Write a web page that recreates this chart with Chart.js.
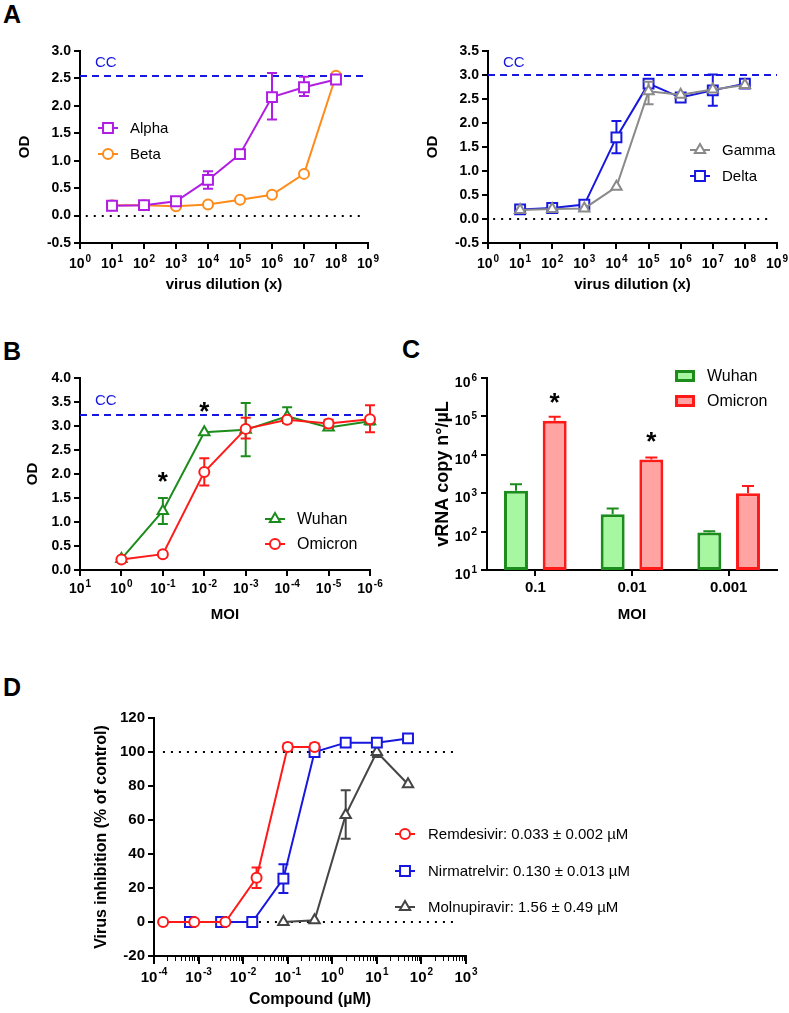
<!DOCTYPE html>
<html>
<head>
<meta charset="utf-8">
<script src="https://cdn.jsdelivr.net/npm/chart.js@4.4.1/dist/chart.umd.min.js"></script>
<style>
  body { margin: 0; background: #fff; }
  #page { position: relative; width: 789px; height: 1013px; overflow: hidden; background: #fff; }
  canvas { position: absolute; }
  .tag { position: absolute; font: bold 25px "Liberation Sans", Arial, sans-serif; line-height: 1; color: #000; }
</style>
</head>
<body>
<div id="page">
  <div class="tag" style="left:3px;top:2px">A</div>
  <div class="tag" style="left:3px;top:339px">B</div>
  <div class="tag" style="left:402px;top:337px">C</div>
  <div class="tag" style="left:3px;top:675px">D</div>
  <canvas id="chartA1"></canvas>
  <canvas id="chartA2"></canvas>
  <canvas id="chartB"></canvas>
  <canvas id="chartC"></canvas>
  <canvas id="chartD"></canvas>
</div>
<script>
// ---- data ----
const dilution = [1e1, 1e2, 1e3, 1e4, 1e5, 1e6, 1e7, 1e8];
const dilutionTicks = [1, 1e1, 1e2, 1e3, 1e4, 1e5, 1e6, 1e7, 1e8, 1e9];

const alphaOD = [0.18, 0.19, 0.26, 0.65, 1.12, 2.16, 2.34, 2.48];
const alphaErr = [null, null, null, [0.49, 0.81], null, [1.75, 2.6], [2.18, 2.53], null];
const betaOD = [0.19, 0.19, 0.17, 0.20, 0.29, 0.38, 0.76, 2.55];
const ccA1 = 2.54;

const gammaOD = [0.19, 0.21, 0.22, 0.67, 2.66, 2.59, 2.7, 2.79];
const gammaErr = [null, null, null, null, [2.39, 2.86], null, null, null];
const deltaOD = [0.2, 0.23, 0.3, 1.7, 2.82, 2.53, 2.68, 2.82];
const deltaErr = [null, null, null, [1.37, 2.04], [2.76, 2.88], null, [2.36, 3.01], null];
const ccA2 = 3.01;

// MOI = 10^-k
const moiK = [0, 1, 2, 3, 4, 5, 6];
const moiTicks = [-1, 0, 1, 2, 3, 4, 5, 6];
const wuhanOD = [0.23, 1.23, 2.87, 2.92, 3.2, 2.97, 3.1];
const wuhanErr = [null, [0.96, 1.5], null, [2.37, 3.48], [3.06, 3.39], [2.93, 3.02], [3.03, 3.17]];
const omicronOD = [0.22, 0.33, 2.04, 2.94, 3.13, 3.05, 3.14];
const omicronErr = [null, null, [1.76, 2.33], [2.74, 3.17], [3.08, 3.18], [2.97, 3.13], [2.87, 3.43]];
const ccB = 3.23;
const starsB = [[1, 1.98], [2, 3.44]];

const moiC = ['0.1', '0.01', '0.001'];
const rnaTicks = [1e1, 1e2, 1e3, 1e4, 1e5, 1e6];
const wuhanRNA = [1150, 282, 95];
const wuhanRNAHi = [1700, 398, 102];
const omicronRNA = [77600, 7600, 1000];
const omicronRNAHi = [98000, 8500, 1550];
const starsC = [[0, 340000], [1, 33000]];

const concTicks = [1e-4, 1e-3, 1e-2, 1e-1, 1, 1e1, 1e2, 1e3];
const remConc = [0.00016, 0.0008, 0.004, 0.02, 0.1, 0.4];
const remInh = [0, 0, 0, 26, 103, 103];
const remErr = [null, null, null, [20, 32], [101, 105], [101, 105]];
const nirConc = [0.00064, 0.0032, 0.016, 0.08, 0.4, 2, 10, 50];
const nirInh = [0, 0, 0, 25.5, 100, 105.5, 105.5, 108];
const nirErr = [null, null, null, [17, 34], null, null, null, [106, 110]];
const molConc = [0.08, 0.4, 2, 10, 50];
const molInh = [0, 1, 63, 100, 81];
const molErr = [null, null, [49, 77.5], [97, 103], null];
const drugLabels = [
  'Remdesivir: 0.033 \u00b1 0.002 \u00b5M',
  'Nirmatrelvir: 0.130 \u00b1 0.013 \u00b5M',
  'Molnupiravir: 1.56 \u00b1 0.49 \u00b5M',
];

// ---- colours ----
const PURPLE = '#b11ee3';
const ORANGE = '#ff8c1a';
const BLUE = '#1717e0';
const GREY = '#8a8a8a';
const GREEN = '#1c8c1c';
const RED = '#ff1a1a';
const DARK = '#454545';

const FONT = '"Liberation Sans", Arial, Helvetica, sans-serif';

function drawErr(chart, meta, ds) {
  const ctx = chart.ctx, ys = chart.scales.y;
  const cap = ds.capHalf || 5;
  ctx.save();
  ctx.strokeStyle = ds.borderColor;
  ctx.lineWidth = 2;
  meta.data.forEach((el, i) => {
    const e = ds.err[i];
    if (!e) return;
    const x = el.x, y0 = ys.getPixelForValue(e[0]), y1 = ys.getPixelForValue(e[1]);
    ctx.beginPath();
    ctx.moveTo(x, y0); ctx.lineTo(x, y1);
    ctx.moveTo(x - cap, y1); ctx.lineTo(x + cap, y1);
    if (!ds.topOnly) { ctx.moveTo(x - cap, y0); ctx.lineTo(x + cap, y0); }
    ctx.stroke();
  });
  ctx.restore();
}

function drawPowLabels(chart, o) {
  const ctx = chart.ctx, s = chart.scales[o.axis];
  ctx.save();
  ctx.fillStyle = '#000';
  ctx.textAlign = 'left';
  ctx.textBaseline = 'alphabetic';
  s.ticks.forEach(t => {
    const p = s.getPixelForValue(t.value);
    const e = String(o.exp(t.value));
    ctx.font = `bold ${o.size}px ${FONT}`;
    const w1 = ctx.measureText('10').width;
    ctx.font = `bold ${o.supSize}px ${FONT}`;
    const w2 = ctx.measureText(e).width;
    let x, y;
    if (o.axis === 'x') { x = p - (w1 + w2 + 1) / 2; y = s.top + o.offset; }
    else { x = s.right - o.offset - (w1 + w2 + 1); y = p + o.shift; }
    ctx.font = `bold ${o.size}px ${FONT}`;
    ctx.fillText('10', x, y);
    ctx.font = `bold ${o.supSize}px ${FONT}`;
    ctx.fillText(e, x + w1 + 1, y - o.rise);
  });
  ctx.restore();
}

const extras = {
  id: 'extras',
  beforeDatasetsDraw(chart, args, opts) {
    const ctx = chart.ctx, xs = chart.scales.x, ys = chart.scales.y;
    (opts.refLines || []).forEach(l => {
      ctx.save();
      ctx.strokeStyle = l.color;
      ctx.lineWidth = 2;
      ctx.setLineDash(l.dash);
      const py = Math.round(ys.getPixelForValue(l.y));
      ctx.beginPath();
      ctx.moveTo(xs.getPixelForValue(l.x0), py);
      ctx.lineTo(xs.getPixelForValue(l.x1), py);
      ctx.stroke();
      ctx.restore();
    });
  },
  beforeDatasetDraw(chart, args) {
    const ds = chart.data.datasets[args.index];
    if (ds.err && !ds.topOnly) drawErr(chart, args.meta, ds);
  },
  afterDatasetDraw(chart, args) {
    const ds = chart.data.datasets[args.index];
    if (ds.err && ds.topOnly) drawErr(chart, args.meta, ds);
  },
  afterDraw(chart, args, opts) {
    const ctx = chart.ctx, xs = chart.scales.x, ys = chart.scales.y;
    const ox = opts.origin.left, oy = opts.origin.top;
    (opts.pow || []).forEach(o => drawPowLabels(chart, o));

    if (opts.minor) {
      ctx.save();
      ctx.strokeStyle = '#000';
      ctx.lineWidth = 1;
      opts.minor.forEach(v => {
        const px = Math.round(xs.getPixelForValue(v)) + 0.5;
        ctx.beginPath();
        ctx.moveTo(px, xs.top);
        ctx.lineTo(px, xs.top + 5);
        ctx.stroke();
      });
      ctx.restore();
    }

    (opts.texts || []).forEach(t => {
      ctx.save();
      ctx.fillStyle = t.color;
      ctx.font = t.font;
      ctx.textAlign = 'left';
      ctx.textBaseline = 'middle';
      ctx.fillText(t.text, t.x - ox, t.y - oy);
      ctx.restore();
    });

    (opts.stars || []).forEach(s => {
      const px = s.ds !== undefined ? chart.getDatasetMeta(s.ds).data[s.i].x : xs.getPixelForValue(s.x);
      const py = ys.getPixelForValue(s.y);
      ctx.save();
      ctx.fillStyle = '#000';
      ctx.font = `bold 26px ${FONT}`;
      ctx.textAlign = 'center';
      ctx.textBaseline = 'alphabetic';
      ctx.fillText('*', px, py + 15);
      ctx.restore();
    });

    (opts.legend || []).forEach(it => {
      const x = it.x - ox, y = it.y - oy;
      ctx.save();
      if (it.box) {
        ctx.fillStyle = it.fill;
        ctx.fillRect(x - 10, y - 6, 20, 12);
        ctx.strokeStyle = it.color;
        ctx.lineWidth = 3;
        ctx.strokeRect(x - 8.5, y - 4.5, 17, 9);
      } else {
        ctx.strokeStyle = it.color;
        ctx.lineWidth = 2;
        ctx.beginPath();
        ctx.moveTo(x - 10, y);
        ctx.lineTo(x + 10, y);
        ctx.stroke();
        ctx.fillStyle = '#fff';
        Chart.helpers.drawPoint(ctx, { pointStyle: it.style, radius: it.r, borderWidth: 2, rotation: 0 }, x, y);
      }
      ctx.fillStyle = '#000';
      ctx.font = it.font;
      ctx.textAlign = 'left';
      ctx.textBaseline = 'middle';
      ctx.fillText(it.label, it.tx - ox, y + 1);
      ctx.restore();
    });
  },
};

function scaleOpts(o) {
  const s = {
    type: o.type || 'linear',
    min: o.min,
    max: o.max,
    border: { display: true, color: '#000', width: 2 },
    grid: { drawOnChartArea: false, color: '#000', lineWidth: 2, tickLength: o.tickLength || 6, offset: false },
    ticks: {
      color: '#000', padding: 3, autoSkip: false, maxRotation: 0,
      font: { family: FONT, size: o.tickSize || 14, weight: 'bold' },
    },
    title: {
      display: true, text: o.title, color: '#000',
      font: { family: FONT, size: o.titleSize || 15, weight: 'bold' },
    },
  };
  if (o.step) s.ticks.stepSize = o.step;
  if (o.fmt) s.ticks.callback = o.fmt;
  if (o.ticksAt) s.afterBuildTicks = sc => { sc.ticks = o.ticksAt.map(v => ({ value: v })); };
  return s;
}

function mount(id, box, area, type, data, x, y, titleX, titleY, extra) {
  const cv = document.getElementById(id);
  cv.width = box.w;
  cv.height = box.h;
  cv.style.left = box.left + 'px';
  cv.style.top = box.top + 'px';
  const lhX = 1.2 * x.title.font.size, lhY = 1.2 * y.title.font.size;
  x.title.padding = { top: 0, bottom: box.top + box.h - titleY - lhX / 2 };
  y.title.padding = { top: titleX - box.left - lhY / 2, bottom: 0 };
  x.afterFit = s => { s.height = box.top + box.h - area.b; };
  y.afterFit = s => { s.width = area.l - box.left; };
  return new Chart(cv, {
    type,
    data,
    options: {
      responsive: false,
      animation: false,
      events: [],
      layout: { padding: { top: area.t - box.top, right: box.left + box.w - area.r, left: 0, bottom: 0 } },
      scales: { x, y },
      plugins: {
        legend: { display: false },
        tooltip: { enabled: false },
        extras: Object.assign({ origin: box }, extra),
      },
    },
    plugins: [extras],
  });
}

function lineSet(label, xs, ys, err, color, style, r) {
  return {
    label,
    data: xs.map((x, i) => ({ x, y: ys[i] })),
    err,
    borderColor: color,
    backgroundColor: '#fff',
    pointBackgroundColor: '#fff',
    pointBorderColor: color,
    pointStyle: style,
    pointRadius: r,
    pointBorderWidth: 2,
    borderWidth: 2,
    tension: 0,
    clip: false,
  };
}

const decade = v => Math.round(Math.log10(v));
const legendFont = size => `${size}px ${FONT}`;
const ccFont = `15px ${FONT}`;

// ---- A, left ----
mount('chartA1', { left: 0, top: 30, w: 390, h: 275 }, { l: 80, t: 51, r: 368, b: 243 }, 'line',
  { datasets: [
    lineSet('Alpha', dilution, alphaOD, alphaErr, PURPLE, 'rect', 7),
    lineSet('Beta', dilution, betaOD, null, ORANGE, 'circle', 5),
  ] },
  scaleOpts({ type: 'logarithmic', min: 1, max: 1e9, ticksAt: dilutionTicks, fmt: () => '', title: 'virus dilution (x)' }),
  scaleOpts({ min: -0.5, max: 3, step: 0.5, fmt: v => v.toFixed(1), title: 'OD' }),
  25, 285,
  {
    refLines: [
      { y: ccA1, x0: 1, x1: 10 ** 8.86, color: BLUE, dash: [7, 5] },
      { y: 0, x0: 10 ** 0.18, x1: 10 ** 8.86, color: '#000', dash: [2, 6] },
    ],
    pow: [{ axis: 'x', exp: decade, size: 14, supSize: 10, offset: 25, rise: 6 }],
    texts: [{ text: 'CC', x: 95, y: 63, color: BLUE, font: ccFont }],
    legend: [
      { label: 'Alpha', x: 108, tx: 130, y: 128, color: PURPLE, style: 'rect', r: 7, font: legendFont(15) },
      { label: 'Beta', x: 108, tx: 130, y: 154, color: ORANGE, style: 'circle', r: 5, font: legendFont(15) },
    ],
  });

// ---- A, right ----
mount('chartA2', { left: 390, top: 30, w: 399, h: 275 }, { l: 488, t: 51, r: 777, b: 243 }, 'line',
  { datasets: [
    lineSet('Gamma', dilution, gammaOD, gammaErr, GREY, 'triangle', 6),
    lineSet('Delta', dilution, deltaOD, deltaErr, BLUE, 'rect', 7),
  ] },
  scaleOpts({ type: 'logarithmic', min: 1, max: 1e9, ticksAt: dilutionTicks, fmt: () => '', title: 'virus dilution (x)' }),
  scaleOpts({ min: -0.5, max: 3.5, step: 0.5, fmt: v => v.toFixed(1), title: 'OD' }),
  433, 285,
  {
    refLines: [
      { y: ccA2, x0: 1, x1: 1e9, color: BLUE, dash: [7, 5] },
      { y: 0, x0: 10 ** 0.16, x1: 10 ** 8.8, color: '#000', dash: [2, 6] },
    ],
    pow: [{ axis: 'x', exp: decade, size: 14, supSize: 10, offset: 25, rise: 6 }],
    texts: [{ text: 'CC', x: 503, y: 63, color: BLUE, font: ccFont }],
    legend: [
      { label: 'Gamma', x: 700, tx: 722, y: 150, color: GREY, style: 'triangle', r: 6, font: legendFont(15) },
      { label: 'Delta', x: 700, tx: 722, y: 176, color: BLUE, style: 'rect', r: 7, font: legendFont(15) },
    ],
  });

// ---- B ----
mount('chartB', { left: 0, top: 340, w: 390, h: 290 }, { l: 80, t: 378, r: 370, b: 570 }, 'line',
  { datasets: [
    lineSet('Omicron', moiK, omicronOD, omicronErr, RED, 'circle', 5),
    lineSet('Wuhan', moiK, wuhanOD, wuhanErr, GREEN, 'triangle', 6),
  ] },
  scaleOpts({ min: -1, max: 6, ticksAt: moiTicks, fmt: () => '', title: 'MOI' }),
  scaleOpts({ min: 0, max: 4, step: 0.5, fmt: v => v.toFixed(1), title: 'OD' }),
  33, 615,
  {
    refLines: [{ y: ccB, x0: -1, x1: 6, color: BLUE, dash: [7, 5] }],
    pow: [{ axis: 'x', exp: v => -v, size: 14, supSize: 10, offset: 23, rise: 6 }],
    texts: [{ text: 'CC', x: 95, y: 401, color: BLUE, font: ccFont }],
    stars: starsB.map(([x, y]) => ({ x, y })),
    legend: [
      { label: 'Wuhan', x: 275, tx: 297, y: 519, color: GREEN, style: 'triangle', r: 6, font: legendFont(16) },
      { label: 'Omicron', x: 275, tx: 297, y: 544, color: RED, style: 'circle', r: 5, font: legendFont(16) },
    ],
  });

// ---- C ----
mount('chartC', { left: 390, top: 340, w: 399, h: 290 }, { l: 487, t: 378, r: 777, b: 570 }, 'bar',
  { labels: moiC, datasets: [
    { label: 'Wuhan', data: wuhanRNA, err: wuhanRNA.map((v, i) => [v, wuhanRNAHi[i]]), topOnly: true, capHalf: 6,
      backgroundColor: '#a6f7a0', borderColor: GREEN, borderWidth: 3, borderSkipped: false,
      categoryPercentage: 0.8, barPercentage: 0.62 },
    { label: 'Omicron', data: omicronRNA, err: omicronRNA.map((v, i) => [v, omicronRNAHi[i]]), topOnly: true, capHalf: 6,
      backgroundColor: '#ffa3a3', borderColor: RED, borderWidth: 3, borderSkipped: false,
      categoryPercentage: 0.8, barPercentage: 0.62 },
  ] },
  (() => { const s = scaleOpts({ type: 'category', title: 'MOI', tickSize: 15 }); s.offset = true; return s; })(),
  scaleOpts({ type: 'logarithmic', min: 10, max: 1e6, ticksAt: rnaTicks, fmt: () => '', title: 'vRNA copy n\u00b0/\u00b5L', titleSize: 18 }),
  443, 615,
  {
    pow: [{ axis: 'y', exp: decade, size: 14, supSize: 10, offset: 10, shift: 9, rise: 6 }],
    stars: starsC.map(([i, y]) => ({ ds: 1, i, y })),
    legend: [
      { label: 'Wuhan', box: true, x: 685, tx: 707, y: 376, color: GREEN, fill: '#a6f7a0', font: legendFont(16) },
      { label: 'Omicron', box: true, x: 685, tx: 707, y: 401, color: RED, fill: '#ffa3a3', font: legendFont(16) },
    ],
  });

// ---- D ----
const minorD = [];
for (let d = -4; d < 3; d++) for (let m = 2; m < 10; m++) minorD.push(m * 10 ** d);

mount('chartD', { left: 0, top: 680, w: 789, h: 333 }, { l: 154, t: 718, r: 466, b: 956 }, 'line',
  { datasets: [
    lineSet('Remdesivir', remConc, remInh, remErr, RED, 'circle', 5),
    lineSet('Nirmatrelvir', nirConc, nirInh, nirErr, BLUE, 'rect', 7),
    lineSet('Molnupiravir', molConc, molInh, molErr, DARK, 'triangle', 6),
  ] },
  scaleOpts({ type: 'logarithmic', min: 1e-4, max: 1e3, ticksAt: concTicks, fmt: () => '', title: 'Compound (\u00b5M)', titleSize: 16, tickLength: 8 }),
  scaleOpts({ min: -20, max: 120, step: 20, title: 'Virus inhibition (% of control)', titleSize: 16, tickSize: 15 }),
  102, 1000,
  {
    refLines: [
      { y: 100, x0: 10 ** -3.8, x1: 10 ** 2.78, color: '#000', dash: [2, 6] },
      { y: 0, x0: 10 ** -3.8, x1: 10 ** 2.78, color: '#000', dash: [2, 6] },
    ],
    minor: minorD,
    pow: [{ axis: 'x', exp: decade, size: 15, supSize: 10, offset: 26, rise: 7 }],
    legend: [
      { label: drugLabels[0], x: 405, tx: 428, y: 834, color: RED, style: 'circle', r: 5, font: legendFont(15) },
      { label: drugLabels[1], x: 405, tx: 428, y: 871, color: BLUE, style: 'rect', r: 7, font: legendFont(15) },
      { label: drugLabels[2], x: 405, tx: 428, y: 907, color: DARK, style: 'triangle', r: 6, font: legendFont(15) },
    ],
  });
</script>
</body>
</html>
